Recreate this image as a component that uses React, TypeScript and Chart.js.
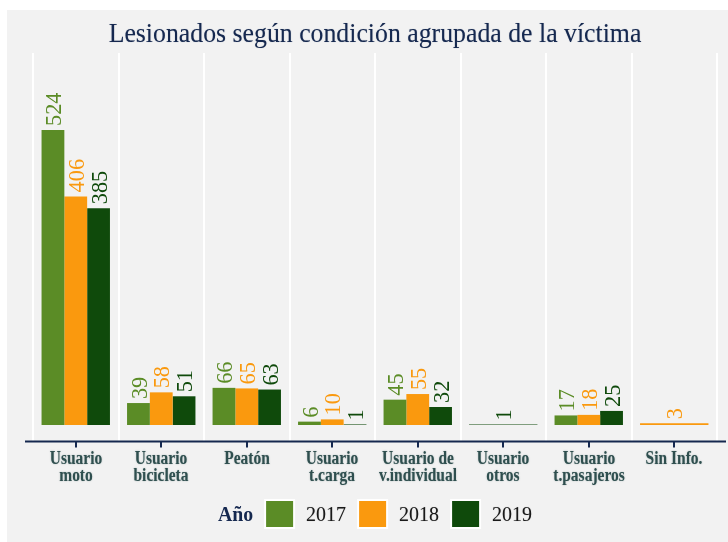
import React, { useEffect, useRef } from "react";
import { Chart, registerables } from "chart.js";

Chart.register(...registerables);

// ---- data ----
const categories: string[][] = [
  ["Usuario", "moto"],
  ["Usuario", "bicicleta"],
  ["Peatón"],
  ["Usuario", "t.carga"],
  ["Usuario de", "v.individual"],
  ["Usuario", "otros"],
  ["Usuario", "t.pasajeros"],
  ["Sin Info."],
];
const years = ["2017", "2018", "2019"];
const values2017: (number | null)[] = [524, 39, 66, 6, 45, null, 17, null];
const values2018: (number | null)[] = [406, 58, 65, 10, 55, null, 18, 3];
const values2019: (number | null)[] = [385, 51, 63, 1, 32, 1, 25, null];
const seriesColors = ["#5b8c26", "#fa990e", "#0f4a0b"];
const titleText = "Lesionados según condición agrupada de la víctima";
const legendTitle = "Año";

const NAVY = "#15284f";
const LABEL_COLOR = "#2f4f4f";
const BG = "#f2f2f2";
const SERIF = '"Liberation Serif", "Times New Roman", serif';

function fillCond(ctx: CanvasRenderingContext2D, text: string, x: number, y: number, k: number) {
  const w = ctx.measureText(text).width;
  ctx.fillText(text, x, y, w * k);
}

const decorPlugin = {
  id: "decor",
  afterDraw(chart: any) {
    const { ctx, chartArea } = chart;
    const xs = chart.scales.x;
    ctx.save();

    // title
    ctx.fillStyle = NAVY;
    ctx.font = `27px ${SERIF}`;
    ctx.textAlign = "center";
    ctx.textBaseline = "alphabetic";
    const cx = (chartArea.left + chartArea.right) / 2;
    ctx.shadowColor = "rgba(21,40,79,0.35)";
    ctx.shadowBlur = 1;
    fillCond(ctx, titleText, cx, 32, 0.955);
    ctx.shadowColor = "transparent";
    ctx.shadowBlur = 0;

    // axis line
    const ay = chartArea.bottom + 0.5;
    ctx.strokeStyle = NAVY;
    ctx.lineWidth = 2;
    ctx.beginPath();
    ctx.moveTo(chartArea.left - 8, ay);
    ctx.lineTo(chartArea.right + 9, ay);
    ctx.stroke();

    // ticks + category labels
    categories.forEach((lines, i) => {
      const px = Math.round(xs.getPixelForValue(i));
      ctx.strokeStyle = NAVY;
      ctx.lineWidth = 2;
      ctx.beginPath();
      ctx.moveTo(px, ay);
      ctx.lineTo(px, ay + 6);
      ctx.stroke();
      ctx.fillStyle = LABEL_COLOR;
      ctx.font = `bold 18px ${SERIF}`;
      ctx.textAlign = "center";
      ctx.textBaseline = "alphabetic";
      ctx.shadowColor = "rgba(47,79,79,0.45)";
      ctx.shadowBlur = 1.5;
      lines.forEach((line, j) => fillCond(ctx, line, px, ay + 22.5 + j * 16.5, 0.86));
      ctx.shadowColor = "transparent";
      ctx.shadowBlur = 0;
    });

    // data labels (rotated)
    const fs = 24;
    ctx.font = `${fs}px ${SERIF}`;
    chart.data.datasets.forEach((ds: any, d: number) => {
      const meta = chart.getDatasetMeta(d);
      ds.data.forEach((v: number | null, i: number) => {
        if (v === null || v === undefined) return;
        const bar = meta.data[i];
        if (!bar) return;
        ctx.save();
        ctx.translate(bar.x + 0.338 * fs, bar.y - 4);
        ctx.rotate(-Math.PI / 2);
        ctx.fillStyle = seriesColors[d];
        ctx.textAlign = "left";
        ctx.textBaseline = "alphabetic";
        fillCond(ctx, String(v), 0, 0, 0.93);
        ctx.restore();
      });
    });

    // legend
    const gap = 11;
    const boxOuterW = 31;
    const boxOuterH = 30;
    const legendY = 504;
    ctx.font = `bold 22px ${SERIF}`;
    const wTitle = ctx.measureText(legendTitle).width * 0.9;
    ctx.font = `20px ${SERIF}`;
    const wLabels = years.map((y) => ctx.measureText(y).width);
    const total = wTitle + years.length * (gap + boxOuterW + gap) + wLabels.reduce((a, b) => a + b, 0);
    let lx = cx - total / 2;

    ctx.textAlign = "left";
    ctx.textBaseline = "alphabetic";
    ctx.fillStyle = NAVY;
    ctx.font = `bold 22px ${SERIF}`;
    fillCond(ctx, legendTitle, lx, legendY + 0.331 * 22, 0.9);
    lx += wTitle;
    years.forEach((y, k) => {
      lx += gap;
      ctx.fillStyle = "#ffffff";
      ctx.fillRect(lx, legendY - boxOuterH / 2, boxOuterW, boxOuterH);
      ctx.fillStyle = seriesColors[k];
      ctx.fillRect(lx + 2, legendY - boxOuterH / 2 + 2, boxOuterW - 4, boxOuterH - 4);
      lx += boxOuterW + gap;
      ctx.fillStyle = "#1a1a1a";
      ctx.font = `20px ${SERIF}`;
      ctx.shadowColor = "rgba(0,0,0,0.3)";
      ctx.shadowBlur = 1;
      ctx.fillText(y, lx, legendY + 0.338 * 20);
      ctx.shadowColor = "transparent";
      ctx.shadowBlur = 0;
      lx += wLabels[k];
    });

    ctx.restore();
  },
};

export default function App() {
  const canvasRef = useRef<HTMLCanvasElement | null>(null);

  useEffect(() => {
    document.body.style.margin = "0";
    document.body.style.overflow = "hidden";
    const canvas = canvasRef.current;
    if (!canvas) return;
    const seriesValues = [values2017, values2018, values2019];
    const chart = new Chart(canvas, {
      type: "bar",
      data: {
        labels: categories.map((c) => c.join(" ")),
        datasets: years.map((y, k) => ({
          label: y,
          data: seriesValues[k],
          backgroundColor: seriesColors[k],
          borderWidth: 0,
          skipNull: true,
          categoryPercentage: 0.8,
          barPercentage: 1.0,
        })),
      },
      options: {
        responsive: false,
        animation: false,
        devicePixelRatio: 1,
        layout: { padding: { left: 26, right: 11, top: 43, bottom: 101 } },
        plugins: {
          legend: { display: false },
          title: { display: false },
          tooltip: { enabled: false },
        },
        scales: {
          x: {
            display: true,
            offset: true,
            grid: { display: true, color: "#ffffff", lineWidth: 2, offset: true, drawTicks: false },
            border: { display: false },
            ticks: { display: false },
          },
          y: {
            display: false,
            min: -28.4,
            max: 660.7,
          },
        },
      },
      plugins: [decorPlugin],
    });
    return () => chart.destroy();
  }, []);

  return (
    <div style={{ position: "relative", width: 728, height: 542, background: "#ffffff", overflow: "hidden" }}>
      <canvas
        ref={canvasRef}
        width={721}
        height={532}
        style={{ position: "absolute", left: 7, top: 10, width: 721, height: 532, background: BG }}
      />
    </div>
  );
}
